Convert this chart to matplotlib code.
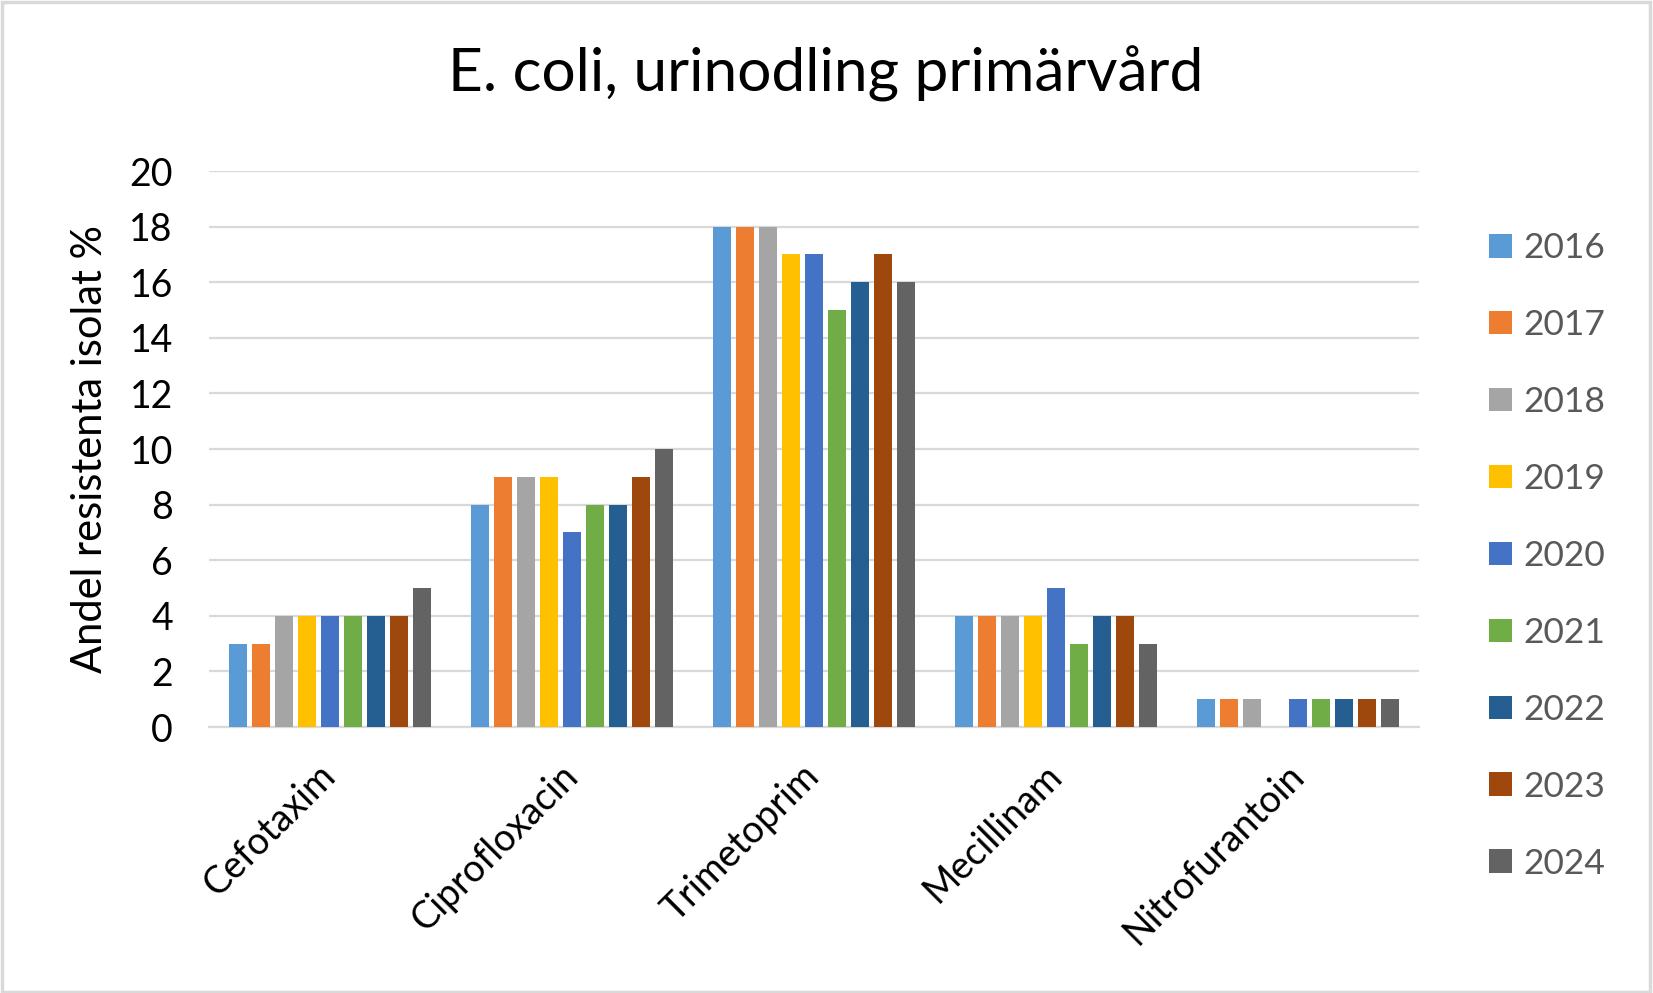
import matplotlib
matplotlib.use("Agg")
import matplotlib.pyplot as plt
import numpy as np
from matplotlib.patches import Rectangle, Patch

plt.rcParams['font.family'] = ['Lato', 'DejaVu Sans']

categories = ["Cefotaxim", "Ciprofloxacin", "Trimetoprim", "Mecillinam", "Nitrofurantoin"]
years = ["2016", "2017", "2018", "2019", "2020", "2021", "2022", "2023", "2024"]
values = {
    "2016": [3, 8, 18, 4, 1],
    "2017": [3, 9, 18, 4, 1],
    "2018": [4, 9, 18, 4, 1],
    "2019": [4, 9, 17, 4, 0],
    "2020": [4, 7, 17, 5, 1],
    "2021": [4, 8, 15, 3, 1],
    "2022": [4, 8, 16, 4, 1],
    "2023": [4, 9, 17, 4, 1],
    "2024": [5, 10, 16, 3, 1],
}
colors = ["#5B9BD5", "#ED7D31", "#A5A5A5", "#FFC000", "#4472C4",
          "#70AD47", "#255E91", "#9E480E", "#636363"]
yticks = [0, 2, 4, 6, 8, 10, 12, 14, 16, 18, 20]

W, H = 1653, 993
fig = plt.figure(figsize=(W / 100, H / 100), dpi=100)
ax = fig.add_axes([209 / W, (H - 727) / H, 1210 / W, 556 / H])

x = np.arange(len(categories))
pitch = 0.095
bw = 0.0765
for i, (yr, c) in enumerate(zip(years, colors)):
    off = (i - 4) * pitch
    ax.bar(x + off, values[yr], width=bw, color=c, zorder=3, label=yr)

ax.set_xlim(-0.5, len(categories) - 0.5)
ax.set_ylim(0, 20)
ax.set_yticks(yticks)
ax.set_yticklabels([str(t) for t in yticks], fontsize=27, color="black")
ax.yaxis.grid(True, color="#D9D9D9", linewidth=1.6, zorder=0)
ax.set_axisbelow(True)
for s in ["top", "right", "left"]:
    ax.spines[s].set_visible(False)
ax.spines["bottom"].set_color("#D9D9D9")
ax.spines["bottom"].set_linewidth(1.6)
ax.tick_params(axis="both", length=0)
ax.tick_params(axis="y", pad=26)
ax.set_xticks(x)
ax.set_xticklabels(categories, fontsize=27, rotation=45, ha="right",
                   va="center", rotation_mode="anchor")
ax.tick_params(axis="x", pad=31)

ax.set_ylabel("Andel resistenta isolat %", fontsize=30, color="black")
ax.yaxis.set_label_coords(-0.083, 0.5)

fig.text(826 / W, 1 - 74 / H, "E. coli, urinodling primärvård", fontsize=43.5,
         ha="center", va="center", color="black")

handles = [Patch(facecolor=c, edgecolor="none") for c in colors]
leg = fig.legend(handles, years, loc="upper left",
                 bbox_to_anchor=(1489 / W, 1 - 232 / H),
                 frameon=False, fontsize=25.5, labelcolor="#595959",
                 handlelength=0.66, handleheight=0.66, handletextpad=0.3,
                 labelspacing=1.27, borderpad=0, borderaxespad=0)

fig.patches.append(Rectangle((0.001, 0.001), 0.997, 0.997, transform=fig.transFigure,
                             fill=False, edgecolor="#D9D9D9", linewidth=2.5))

fig.savefig("out.png", dpi=100)
